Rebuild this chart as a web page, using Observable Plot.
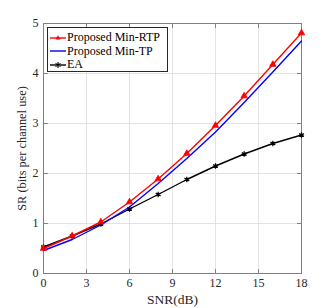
<!DOCTYPE html>
<html>
<head>
<meta charset="utf-8">
<script src="https://cdn.jsdelivr.net/npm/d3@7"></script>
<script src="https://cdn.jsdelivr.net/npm/@observablehq/plot@0.6"></script>
<style>
  html, body { margin: 0; padding: 0; background: #fff; }
  #wrap { position: relative; width: 332px; height: 308px; font-family: "Liberation Serif", "Times New Roman", serif; }
  #legend { position: absolute; left: 47px; top: 27px; width: 121px; height: 45px; border: 1px solid #262626; background: #fff; box-sizing: border-box; font-family: "Liberation Serif", serif; }
</style>
</head>
<body>
<div id="wrap"></div>
<script>
const snr = [0, 2, 4, 6, 8, 10, 12, 14, 16, 18];
const minRTP = [0.50, 0.75, 1.03, 1.43, 1.89, 2.40, 2.96, 3.55, 4.18, 4.81];
const minTP  = [0.46, 0.68, 0.97, 1.33, 1.80, 2.30, 2.83, 3.42, 4.03, 4.65];
const ea     = [0.53, 0.75, 0.99, 1.29, 1.58, 1.88, 2.15, 2.39, 2.60, 2.77];
const xTicks = [0, 3, 6, 9, 12, 15, 18];
const yTicks = [0, 1, 2, 3, 4, 5];
const xLabel = "SNR(dB)";
const yLabel = "SR (bits per channel use)";
const seriesNames = ["Proposed Min-RTP", "Proposed Min-TP", "EA"];
const seriesColors = ["#ff0000", "#0000ff", "#000000"];

const rtp = snr.map((x, i) => ({x, y: minRTP[i]}));
const tp = snr.map((x, i) => ({x, y: minTP[i]}));
const eaD = snr.map((x, i) => ({x, y: ea[i]}));

const tickShape = {draw(context, l) { context.moveTo(0, 0); context.lineTo(0, -l); }};
const tickColor = "#808080";
const inward = (ticks, axis, anchor, rotate) =>
  Plot.vector(ticks, {[axis]: d => d, frameAnchor: anchor, rotate, length: 4, anchor: "start", shape: tickShape, stroke: tickColor, strokeWidth: 1});

const chart = Plot.plot({
  width: 332,
  height: 308,
  marginLeft: 43,
  marginRight: 31,
  marginTop: 23,
  marginBottom: 35,
  style: {fontFamily: "'Liberation Serif', 'Times New Roman', serif", fontSize: "12px", color: "#262626", background: "#fff"},
  x: {domain: [0, 18], ticks: xTicks},
  y: {domain: [0, 5], ticks: yTicks},
  marks: [
    Plot.gridX(xTicks, {stroke: "#dcdcdc", strokeOpacity: 1, strokeWidth: 0.8}),
    Plot.gridY(yTicks, {stroke: "#dcdcdc", strokeOpacity: 1, strokeWidth: 0.8}),
    Plot.frame({stroke: tickColor, strokeWidth: 1}),
    inward(xTicks, "x", "bottom", 0),
    inward(xTicks, "x", "top", 180),
    inward(yTicks, "y", "left", 90),
    inward(yTicks, "y", "right", 270),
    Plot.axisX(xTicks, {anchor: "bottom", tickSize: 0, tickPadding: 5, tickFormat: d => String(d), label: null, fill: "#262626"}),
    Plot.axisY(yTicks, {anchor: "left", tickSize: 0, tickPadding: 5, tickFormat: d => String(d), label: null, fill: "#262626"}),
    Plot.text([xLabel], {text: d => d, frameAnchor: "bottom", lineAnchor: "middle", textAnchor: "middle", dy: 26, fontSize: 13.5, fill: "#262626"}),
    Plot.text([yLabel], {text: d => d, frameAnchor: "left", lineAnchor: "middle", textAnchor: "middle", dx: -21, rotate: -90, fontSize: 12.4, fill: "#262626"}),
    Plot.line(eaD, {x: "x", y: "y", stroke: seriesColors[2], strokeWidth: 1.4}),
    Plot.dot(eaD, {x: "x", y: "y", symbol: "asterisk", r: 2.6, stroke: seriesColors[2], strokeWidth: 1.2}),
    Plot.line(tp, {x: "x", y: "y", stroke: seriesColors[1], strokeWidth: 1.4}),
    Plot.line(rtp, {x: "x", y: "y", stroke: seriesColors[0], strokeWidth: 1.4}),
    Plot.dot(rtp, {x: "x", y: "y", symbol: "triangle", r: 2.4, fill: seriesColors[0], stroke: seriesColors[0], strokeWidth: 0.8})
  ]
});
const wrap = document.getElementById("wrap");
wrap.appendChild(chart);

// legend
const leg = document.createElement("div");
leg.id = "legend";
const markers = ["triangle", "none", "asterisk"];
let html = "";
seriesNames.forEach((name, i) => {
  const top = 3 + i * 13.5;
  let m = "";
  if (markers[i] === "triangle") m = `<path d="M8,1.2 L10.5,5.5 L5.5,5.5 Z" fill="${seriesColors[i]}"/>`;
  if (markers[i] === "asterisk") m = `<path d="M8,1 V7 M5.5,2.5 L10.5,5.5 M10.5,2.5 L5.5,5.5" stroke="${seriesColors[i]}" stroke-width="1.1"/>`;
  html += `<div style="position:absolute;left:2px;top:${top}px;height:13px;display:flex;align-items:center;font-size:12px;line-height:13px;color:#000;white-space:nowrap;font-family:'Liberation Serif',serif;">
    <svg width="16" height="8" style="margin-right:1px"><line x1="0" x2="16" y1="4" y2="4" stroke="${seriesColors[i]}" stroke-width="1.4"/>${m}</svg>${name}</div>`;
});
leg.innerHTML = html;
wrap.appendChild(leg);
</script>
</body>
</html>
